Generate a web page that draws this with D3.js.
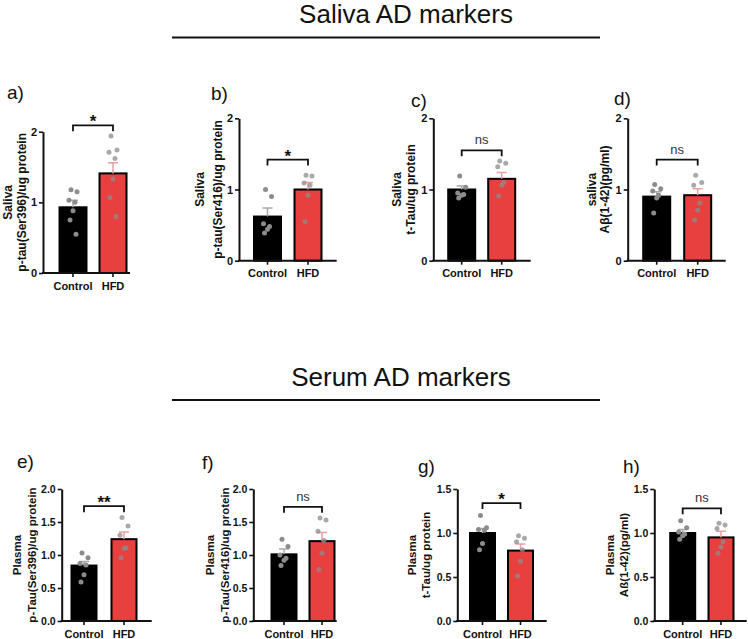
<!DOCTYPE html>
<html>
<head>
<meta charset="UTF-8" />
<title>Saliva and serum AD markers</title>
<style>
  body { margin: 0; background: #fff; }
  svg { display: block; font-family: "Liberation Sans", Arial, sans-serif; }
</style>
</head>
<body>
<svg width="748" height="639"></svg>
<script src="https://cdn.jsdelivr.net/npm/d3@7/dist/d3.min.js"></script>
<script>
// data
const groups = ["Control", "HFD"];
const sectionTitles = ["Saliva AD markers", "Serum AD markers"];
const panelTags = ["a)", "b)", "c)", "d)", "e)", "f)", "g)", "h)"];
const yTitle1 = ["Saliva", "Saliva", "Saliva", "saliva", "Plasma", "Plasma", "Plasma", "Plasma"];
const yTitle2 = [
  "p-tau(Ser396)/ug protein", "p-tau(Ser416)/ug protein", "t-Tau/ug protein", "Aβ(1-42)(pg/ml)",
  "p-Tau(Ser396)/ug protein", "p-Tau(Ser416)/ug protein", "t-Tau/ug protein", "Aß(1-42)(pg/ml)"
];
const yMax = [2, 2, 2, 2, 2, 2, 1.5, 1.5];
const yTicks = [
  [0, 1, 2], [0, 1, 2], [0, 1, 2], [0, 1, 2],
  [0, 0.5, 1, 1.5, 2], [0, 0.5, 1, 1.5, 2], [0, 0.5, 1, 1.5], [0, 0.5, 1, 1.5]
];
const means = [[0.93, 1.41], [0.62, 1.00], [1.00, 1.15], [0.90, 0.92],
               [0.84, 1.24], [1.01, 1.21], [1.00, 0.80], [1.00, 0.95]];
const sems = [[0.10, 0.15], [0.12, 0.10], [0.05, 0.09], [0.07, 0.09],
              [0.06, 0.11], [0.08, 0.13], [0.05, 0.075], [0.04, 0.07]];
const pointsControl = [
  [1.18, 1.15, 1.03, 1.00, 0.88, 0.75, 0.55],
  [1.00, 0.90, 0.52, 0.48, 0.44, 0.39],
  [1.19, 1.03, 0.95, 0.93, 0.92, 0.88],
  [1.07, 1.01, 0.98, 0.92, 0.88, 0.67],
  [1.03, 0.96, 0.87, 0.85, 0.70, 0.59],
  [1.24, 1.13, 1.00, 0.95, 0.92, 0.84],
  [1.20, 1.06, 1.04, 1.03, 0.88, 0.81],
  [1.14, 1.06, 1.01, 0.99, 0.97, 0.93]
];
const pointsHFD = [
  [1.94, 1.74, 1.71, 1.62, 1.33, 1.07, 0.80],
  [1.20, 1.19, 1.09, 1.06, 0.92, 0.55],
  [1.40, 1.37, 1.32, 1.10, 1.06, 0.91],
  [1.20, 1.10, 1.06, 0.81, 0.71, 0.57],
  [1.57, 1.44, 1.30, 1.11, 1.10, 0.96],
  [1.56, 1.53, 1.36, 1.22, 1.03, 0.78],
  [0.97, 0.94, 0.90, 0.81, 0.68, 0.51],
  [1.11, 1.09, 1.05, 0.90, 0.84, 0.77]
];
const sigText = ["*", "*", "ns", "ns", "**", "ns", "*", "ns"];
const sigLevel = [2.09, 1.42, 1.55, 1.42, 1.74, 1.73, 1.34, 1.28];

// layout of each panel (pixels)
const layout = [
  { x0: 43, c1: 73, c2: 113, xEnd: 130, top: 131.7, bottom: 273, bw: 27, lab: [-35, -21], tag: [7, 99], fs: 12, tfs: 11 },
  { x0: 239, c1: 267.5, c2: 308, xEnd: 336.7, top: 118.3, bottom: 260.7, bw: 27, lab: [-39, -21], tag: [211, 100], fs: 12, tfs: 11 },
  { x0: 433.3, c1: 461.7, c2: 501.7, xEnd: 530.7, top: 118.3, bottom: 260.7, bw: 27, lab: [-36.6, -22.6], tag: [411, 107], fs: 12, tfs: 11 },
  { x0: 627.7, c1: 656.7, c2: 697.7, xEnd: 725.7, top: 118.3, bottom: 260.7, bw: 27, lab: [-36, -22.7], tag: [614, 105], fs: 12, tfs: 11 },
  { x0: 61.7, c1: 84, c2: 124, xEnd: 151.7, top: 489, bottom: 621, bw: 25, lab: [-45, -30], tag: [17, 468], fs: 11.5, tfs: 10.5 },
  { x0: 253.3, c1: 284, c2: 322, xEnd: 336.7, top: 489, bottom: 621, bw: 25, lab: [-43, -28], tag: [202, 469], fs: 11.5, tfs: 10.5 },
  { x0: 457.3, c1: 482.5, c2: 520.5, xEnd: 546.7, top: 489, bottom: 621, bw: 25, lab: [-45.6, -31.5], tag: [418, 473], fs: 11.5, tfs: 10.5 },
  { x0: 654.3, c1: 682.7, c2: 721, xEnd: 746.7, top: 489, bottom: 621, bw: 25, lab: [-44.3, -30.5], tag: [623, 473], fs: 11.5, tfs: 10.5 }
];
const sectionPos = [{ x: 406, y: 23, lineY: 37.5 }, { x: 401, y: 386, lineY: 400 }];
const jitter = [-2, 4, -4, 2, 0, -3, 3];
const RED = "#e8403f";

const svg = d3.select("svg");

// section titles + rules
sectionTitles.forEach((t, k) => {
  const p = sectionPos[k];
  svg.append("text")
    .attr("x", p.x).attr("y", p.y)
    .attr("text-anchor", "middle")
    .attr("font-size", "26px")
    .attr("fill", "#111")
    .text(t);
  svg.append("line")
    .attr("x1", 172).attr("x2", 600)
    .attr("y1", p.lineY).attr("y2", p.lineY)
    .attr("stroke", "#111").attr("stroke-width", 2);
});

panelTags.forEach((tag, i) => {
  const L = layout[i];
  const g = svg.append("g");
  const y = d3.scaleLinear().domain([0, yMax[i]]).range([L.bottom, L.top]);
  const s = L.c2 - L.c1;
  const x = d3.scaleBand().domain(groups)
    .range([L.c1 - s / 2, L.c2 + s / 2])
    .paddingInner(1 - L.bw / s).paddingOuter((1 - L.bw / s) / 2);
  const cx = (d) => x(d) + x.bandwidth() / 2;
  const fmt = yTicks[i].some((t) => t % 1) ? d3.format(".1f") : d3.format("d");

  // panel tag
  g.append("text")
    .attr("x", L.tag[0]).attr("y", L.tag[1])
    .attr("font-size", "19px").attr("fill", "#111")
    .text(tag);

  // bars
  g.selectAll(".bar")
    .data(groups)
    .enter()
    .append("rect")
    .attr("x", (d) => x(d))
    .attr("width", x.bandwidth())
    .attr("y", (d, j) => y(means[i][j]))
    .attr("height", (d, j) => y(0) - y(means[i][j]))
    .attr("fill", (d, j) => (j === 0 ? "#000" : RED))
    .attr("stroke", "#000")
    .attr("stroke-width", 2);

  // error bars (upper only)
  groups.forEach((d, j) => {
    const yt = y(means[i][j] + sems[i][j]);
    g.append("path")
      .attr("d", `M${cx(d)},${y(means[i][j])}V${yt}M${cx(d) - 5},${yt}H${cx(d) + 5}`)
      .attr("fill", "none")
      .attr("stroke", j === 0 ? "#a8a8a8" : "#e9a0a0")
      .attr("stroke-width", 1.5);
  });

  // individual points
  [pointsControl[i], pointsHFD[i]].forEach((pts, j) => {
    g.selectAll(".pt" + j)
      .data(pts)
      .enter()
      .append("circle")
      .attr("cx", (v, k) => cx(groups[j]) + jitter[k % jitter.length])
      .attr("cy", (v) => y(v))
      .attr("r", 2.5)
      .attr("fill", "#8c8c8c")
      .attr("opacity", j === 0 ? 1 : 0.75);
  });

  // y axis
  const ya = g.append("g")
    .attr("transform", `translate(${L.x0},0)`)
    .call(d3.axisLeft(y).tickValues(yTicks[i]).tickFormat(fmt).tickSize(4).tickSizeOuter(0).tickPadding(2));
  ya.select(".domain").attr("stroke", "#111").attr("stroke-width", 2);
  ya.selectAll(".tick line").attr("stroke", "#111").attr("stroke-width", 1.6);
  ya.selectAll(".tick text")
    .attr("font-family", "Liberation Sans, Arial, sans-serif")
    .attr("font-size", L.tfs + "px").attr("font-weight", "bold").attr("fill", "#111");

  // x axis
  g.append("line")
    .attr("x1", L.x0 - 1).attr("x2", L.xEnd)
    .attr("y1", y(0)).attr("y2", y(0))
    .attr("stroke", "#111").attr("stroke-width", 2);
  const xa = g.append("g")
    .attr("transform", `translate(0,${y(0)})`)
    .call(d3.axisBottom(x).tickSize(4).tickSizeOuter(0).tickPadding(5));
  xa.select(".domain").remove();
  xa.selectAll(".tick line").attr("stroke", "#111").attr("stroke-width", 1.6);
  xa.selectAll(".tick text")
    .attr("font-family", "Liberation Sans, Arial, sans-serif")
    .attr("font-size", "11px").attr("font-weight", "bold").attr("fill", "#111");

  // y axis title (two lines)
  const ym = (L.top + L.bottom) / 2;
  [yTitle1[i], yTitle2[i]].forEach((t, k) => {
    g.append("text")
      .attr("transform", `translate(${L.x0 + L.lab[k]},${ym}) rotate(-90)`)
      .attr("text-anchor", "middle")
      .attr("dominant-baseline", "central")
      .attr("font-size", L.fs + "px")
      .attr("font-weight", "bold")
      .attr("fill", "#111")
      .text(t);
  });

  // significance bracket
  const by = y(sigLevel[i]);
  const a = cx(groups[0]), b = cx(groups[1]);
  g.append("path")
    .attr("d", `M${a},${by + 6}V${by}H${b}V${by + 6}`)
    .attr("fill", "none")
    .attr("stroke", "#111")
    .attr("stroke-width", 1.8);
  const isNs = sigText[i] === "ns";
  g.append("text")
    .attr("x", (a + b) / 2)
    .attr("y", isNs ? by - 6 : by + 2)
    .attr("text-anchor", "middle")
    .attr("font-size", isNs ? "13px" : "17px")
    .attr("font-weight", isNs ? "normal" : "bold")
    .attr("fill", isNs ? "#333" : "#111")
    .text(sigText[i]);
});
</script>
</body>
</html>
